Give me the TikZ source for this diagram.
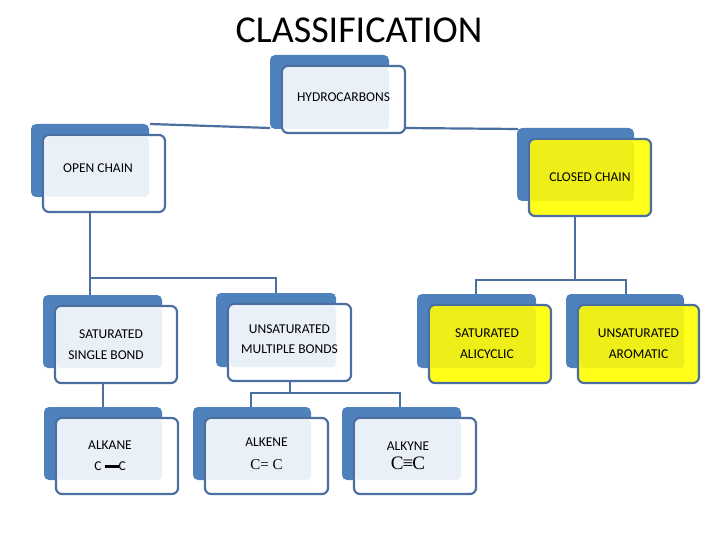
\documentclass[tikz,border=0pt]{standalone}
\usepackage{fontspec}
\setmainfont{Carlito}
\newfontfamily\serifc{Liberation Serif}
\definecolor{bk}{HTML}{4F81BD}
\definecolor{ln}{HTML}{4A6FA0}
\definecolor{lt}{HTML}{EAF0F8}
\definecolor{yf}{HTML}{FFFF1A}
\definecolor{yi}{HTML}{EEEE18}
\tikzset{back/.style={fill=bk,rounded corners=5pt},
 frontb/.style={fill=white,draw=ln,line width=2.2pt,rounded corners=6pt},
 fronty/.style={fill=yf,draw=ln,line width=2.2pt,rounded corners=6pt},
 interb/.style={fill=lt,rounded corners=4pt},
 intery/.style={fill=yi,rounded corners=4pt},
 conn/.style={draw=ln,line width=2.2pt},
 lbl/.style={font=\fontsize{13.5}{17}\selectfont,align=center}}
% #1 name #2 bx1 #3 by1 #4 bx2 #5 by2 #6 fx2 #7 fy2 #8 b/y #9 text
\newcommand\cbox[9]{%
 \fill[back] (#2,#3) rectangle (#4,#5);
 \draw[front#8] (#2+12,#3+11) rectangle (#6,#7);
 \fill[inter#8] (#2+13.5,#3+12.5) rectangle (#4,#5);
 \node[lbl,inner sep=0pt,minimum width=#6-#2-12,minimum height=#7-#3-11] (#1) at ({(#2+12+#6)/2},{(#3+11+#7)/2}) {#9};}
\begin{document}
\begin{tikzpicture}[x=1pt,y=-1pt]
\useasboundingbox (0,0) rectangle (720,540);
\node[font=\fontsize{38}{44}\selectfont] (title) at (359,30) {CLASSIFICATION};
% connectors
\coordinate (hl) at (270,128); \coordinate (oc) at (150,124);
\coordinate (hr) at (405,128); \coordinate (cc) at (518,129);
\draw[conn] (hl) -- (oc);
\draw[conn] (hr) -- (cc);
\coordinate (o1) at (90,212); \coordinate (o2) at (90,296);
\coordinate (o3) at (276,278); \coordinate (o4) at (276,294);
\draw[conn] (o1) -- (o2);
\draw[conn] (90,278) -- (o3) -- (o4);
\coordinate (c1) at (575,216);
\draw[conn] (c1) -- (575,280);
\draw[conn] (476,294) -- (476,280) -- (626,280) -- (626,294);
\draw[conn] (103,383) -- (103,408);
\draw[conn] (290,381) -- (290,393);
\draw[conn] (251,408) -- (251,393) -- (400,393) -- (400,408);
% boxes
\cbox{hyd}{270}{55}{389}{129}{405}{133}{b}{\raisebox{5pt}{HYDROCARBONS}}
\cbox{open}{31}{124}{149}{197}{165}{212}{b}{\raisebox{10pt}{\hspace*{-12pt}OPEN CHAIN}}
\cbox{closed}{517}{128}{634}{201}{651}{216}{y}{CLOSED CHAIN}
\cbox{sat}{43}{295}{162}{368}{177}{383}{b}{\hspace*{-10pt}SATURATED\\[4pt]\hspace*{-20pt}SINGLE BOND}
\cbox{unsat}{216}{293}{336}{367}{351}{381}{b}{\raisebox{6pt}{\shortstack{UNSATURATED\\[8pt]MULTIPLE BONDS}}}
\cbox{sali}{417}{294}{536}{368}{551}{383}{y}{\hspace*{-6pt}SATURATED\\[4pt]\hspace*{-6pt}ALICYCLIC}
\cbox{arom}{566}{294}{684}{368}{699}{383}{y}{UNSATURATED\\[4pt]AROMATIC}
\cbox{alkane}{44}{407}{162}{480}{178}{494}{b}{\hspace*{-14pt}ALKANE\\[4pt]\hspace*{-14pt}C \rule[2.5pt]{14pt}{3.5pt}C}
\cbox{alkene}{193}{407}{311}{480}{328}{494}{b}{\raisebox{4pt}{\shortstack{ALKENE\\[10pt]{\serifc\fontsize{15}{17}\selectfont C= C}}}}
\cbox{alkyne}{342}{407}{461}{480}{476}{494}{b}{\hspace*{-14pt}ALKYNE\\[2pt]\hspace*{-14pt}{\serifc\fontsize{19}{21}\selectfont C\kern-1pt≡\kern-1ptC}}
\end{tikzpicture}
\end{document}
